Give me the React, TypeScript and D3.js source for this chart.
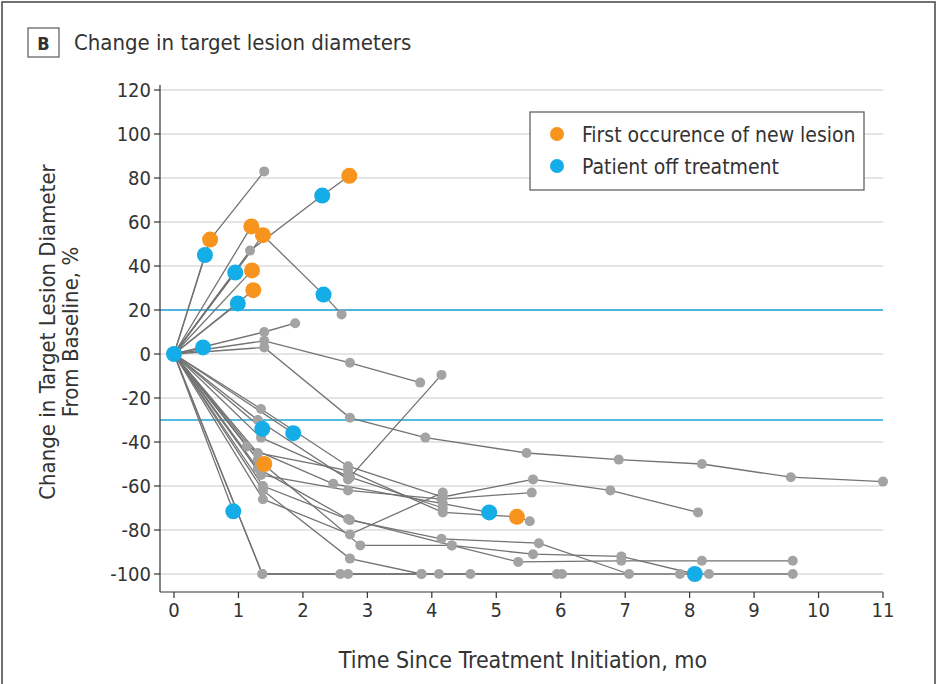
import React from "react";
import * as d3 from "d3";

type Pt = [number, number, string?];

// patient trajectories: [months, % change, marker type ("o" new lesion, "b" off treatment)]
const upPatients: Pt[][] = [
  [[0, 0], [0.56, 52, "o"], [1.4, 83]],
  [[0, 0], [0.48, 45, "b"]],
  [[0, 0], [1.2, 58, "o"]],
  [[0, 0], [1.18, 47], [2.3, 72, "b"], [2.72, 81, "o"]],
  [[0, 0], [1.38, 54, "o"], [2.32, 27, "b"], [2.6, 18]],
  [[0, 0], [0.95, 37, "b"]],
  [[0, 0], [1.21, 38, "o"]],
  [[0, 0], [1.23, 29, "o"]],
  [[0, 0], [0.99, 23, "b"]],
  [[0, 0], [1.4, 10], [1.88, 14]],
  [[0, 0], [1.4, 6], [2.73, -4], [3.82, -13]],
  [[0, 0], [1.4, 3], [2.73, -29], [3.9, -38], [5.47, -45], [6.9, -48], [8.19, -50], [9.57, -56], [11, -58]],
  [[0, 0], [0.45, 3, "b"]],
];

const downPatients: Pt[][] = [
  [[0, 0], [0.92, -71.5, "b"]],
  [[0, 0], [1.37, -100], [2.58, -100], [4.11, -100], [5.94, -100], [7.85, -100], [8.3, -100], [9.6, -100]],
  [[0, 0], [1.37, -100], [2.7, -100], [3.84, -100], [4.6, -100], [6.02, -100]],
  [[0, 0], [1.35, -25], [2.7, -51], [4.17, -65], [5.57, -57], [6.77, -62], [8.13, -72]],
  [[0, 0], [1.3, -30], [2.7, -57], [4.15, -9.5]],
  [[0, 0], [1.13, -42], [2.47, -59], [4.17, -68], [4.89, -72, "b"]],
  [[0, 0], [1.3, -45], [2.7, -53], [4.17, -72], [5.32, -74, "o"], [5.52, -76]],
  [[0, 0], [1.35, -55], [2.7, -62], [4.15, -66], [5.55, -63]],
  [[0, 0], [1.38, -60], [2.73, -75.5], [4.15, -84], [5.66, -86], [7.06, -100]],
  [[0, 0], [1.38, -66], [2.73, -82], [4.17, -63]],
  [[0, 0], [1.3, -48], [2.89, -87], [4.31, -87], [5.57, -91], [6.94, -92], [8.08, -100, "b"]],
  [[0, 0], [1.38, -62], [2.73, -93], [3.84, -100]],
  [[0, 0], [1.3, -52], [2.7, -75], [4.31, -87], [5.34, -94.5], [6.94, -94], [8.19, -94], [9.6, -94]],
  [[0, 0], [1.35, -38], [2.73, -56], [4.17, -70]],
  [[0, 0], [1.37, -34, "b"]],
  [[0, 0], [1.85, -36, "b"]],
  [[0, 0], [1.4, -50, "o"]],
];

const baselinePoint: Pt[] = [[0, 0, "b"]];

const yTicks = [120, 100, 80, 60, 40, 20, 0, -20, -40, -60, -80, -100];
const xTicks = [0, 1, 2, 3, 4, 5, 6, 7, 8, 9, 10, 11];
const refLines = [20, -30];
const legendItems = [
  { label: "First occurence of new lesion", key: "o" },
  { label: "Patient off treatment", key: "b" },
];

const ORANGE = "#F7941D";
const BLUE = "#14ADE8";
const GREY_PT = "#a3a3a3";
const LINE = "#737373";
const FONT = "'DejaVu Sans Condensed', 'Liberation Sans Narrow', 'DejaVu Sans', sans-serif";
const TXT = "#333";

export default function App() {
  const x = d3.scaleLinear().domain([0, 11]).range([174, 883]);
  const y = d3.scaleLinear().domain([-100, 120]).range([574, 90]);
  const line = d3.line<Pt>().x((d) => x(d[0])).y((d) => y(d[1]));
  const patients = [...upPatients, ...downPatients];
  const allPts = patients.flat();
  const grey = allPts.filter((p) => !p[2] && !(p[0] === 0 && p[1] === 0));
  const colored = [...allPts.filter((p) => p[2]), ...baselinePoint];
  const color = (k?: string) => (k === "o" ? ORANGE : BLUE);
  const axisLeft = 160;
  const axisBottom = 592;

  return (
    <svg width={942} height={684} style={{ position: "absolute", left: 0, top: 0, background: "#fff" }} fontFamily={FONT}>
      <rect x={2} y={2} width={933} height={700} fill="none" stroke="#444" strokeWidth={1.5} />
      {/* panel label */}
      <rect x={28} y={28} width={31} height={29} fill="#fff" stroke="#666" strokeWidth={1.3} />
      <text x={43.5} y={50} textAnchor="middle" fontSize={18} fontWeight="bold" fill={TXT}>B</text>
      <text x={74} y={50} fontSize={22} fill={TXT}>Change in target lesion diameters</text>

      {/* grid */}
      {yTicks.map((t) => (
        <line key={"g" + t} x1={axisLeft} x2={883} y1={y(t)} y2={y(t)} stroke="#dcdcdc" strokeWidth={1.6} />
      ))}
      {refLines.map((t) => (
        <line key={"r" + t} x1={axisLeft} x2={883} y1={y(t)} y2={y(t)} stroke="#1aa6d6" strokeWidth={1.7} />
      ))}

      {/* axes */}
      <line x1={axisLeft} x2={axisLeft} y1={85} y2={axisBottom} stroke="#333" strokeWidth={1.2} />
      <line x1={axisLeft} x2={883} y1={axisBottom} y2={axisBottom} stroke="#333" strokeWidth={1.2} />
      {yTicks.map((t) => (
        <g key={"yt" + t}>
          <line x1={axisLeft - 6} x2={axisLeft} y1={y(t)} y2={y(t)} stroke="#333" strokeWidth={1.2} />
          <text x={axisLeft - 9} y={y(t)} dy="0.36em" textAnchor="end" fontSize={20} fill={TXT}>
            {t}
          </text>
        </g>
      ))}
      {xTicks.map((t) => (
        <g key={"xt" + t}>
          <line x1={x(t)} x2={x(t)} y1={axisBottom} y2={axisBottom + 6} stroke="#333" strokeWidth={1.2} />
          <text x={x(t)} y={617} textAnchor="middle" fontSize={20} fill={TXT}>
            {t}
          </text>
        </g>
      ))}
      <text x={523} y={668} textAnchor="middle" fontSize={23} fill={TXT}>
        Time Since Treatment Initiation, mo
      </text>
      <g transform="translate(55,332) rotate(-90)">
        <text x={0} y={0} textAnchor="middle" fontSize={22} fill={TXT}>Change in Target Lesion Diameter</text>
        <text x={0} y={23} textAnchor="middle" fontSize={22} fill={TXT}>From Baseline, %</text>
      </g>

      {/* patient lines */}
      {patients.map((p, i) => (
        <path key={"p" + i} d={line(p) || ""} fill="none" stroke={LINE} strokeWidth={1.3} />
      ))}
      {grey.map((p, i) => (
        <circle key={"gp" + i} cx={x(p[0])} cy={y(p[1])} r={5} fill={GREY_PT} />
      ))}
      {colored.map((p, i) => (
        <circle key={"cp" + i} cx={x(p[0])} cy={y(p[1])} r={8} fill={color(p[2])} />
      ))}

      {/* legend */}
      <rect x={530} y={112} width={334} height={78} fill="#fff" stroke="#555" strokeWidth={1.2} />
      {legendItems.map((it, i) => (
        <g key={it.key}>
          <circle cx={557} cy={134 + i * 32} r={7} fill={color(it.key)} />
          <text x={582} y={134 + i * 32} dy="0.36em" fontSize={21} fill={TXT}>
            {it.label}
          </text>
        </g>
      ))}
    </svg>
  );
}
